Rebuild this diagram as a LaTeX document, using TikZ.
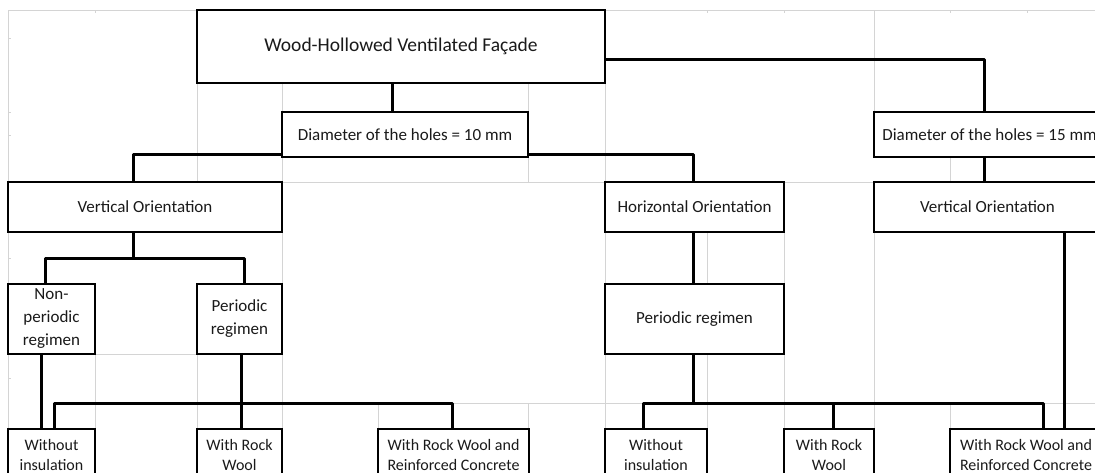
\documentclass[tikz,border=0pt]{standalone}
\usepackage{fontspec}
\setmainfont{Carlito}
\definecolor{gridgray}{HTML}{D4D4D4}
\definecolor{txt}{HTML}{1A1A1A}
\begin{document}
\begin{tikzpicture}[x=1pt,y=-1pt,
  box/.style={draw=black, line width=1.8pt, fill=white, anchor=north west, inner sep=0pt, outer sep=0pt,
    align=center, text=txt, font=\fontsize{17}{23}\selectfont},
  lowbox/.style={box, minimum height=52pt, font=\fontsize{16}{20}\selectfont},
  conn/.style={line width=3pt, line join=round, draw=black},
  gline/.style={draw=gridgray, line width=1pt}]
\useasboundingbox (0,0) rectangle (1095,472);
\clip (0,0) rectangle (1095,472);
% spreadsheet grid lines
\draw[gline] (8,10) -- (1095,10);
\draw[gline] (8,10) -- (8,472);
\draw[gline] (282,182) -- (874,182);
\draw[gline] (95,354) -- (197,354);
\draw[gline] (282,403) -- (1095,403);
\draw[gline] (197,83) -- (197,182);
\draw[gline] (197,354) -- (197,429);
\draw[gline] (95,354) -- (95,429);
\draw[gline] (282,83) -- (282,112);
\draw[gline] (282,157) -- (282,182);
\draw[gline] (282,232) -- (282,472);
\draw[gline] (378,403) -- (378,429);
\draw[gline] (528,83) -- (528,112);
\draw[gline] (528,157) -- (528,182);
\draw[gline] (528,403) -- (528,429);
\draw[gline] (605,83) -- (605,472);
\draw[gline] (707,232) -- (707,429);
\draw[gline] (784,232) -- (784,472);
\draw[gline] (874,10) -- (874,112);
\draw[gline] (874,232) -- (874,472);
\draw[gline] (950,157) -- (950,182);
\draw[gline] (950,403) -- (950,429);
\foreach \gx in {95,378,452,707,784,950,1027} \draw[gline] (\gx,10) -- (\gx,13);
\foreach \gy in {38,112,135,207,258,309,378} \draw[gline] (8,\gy) -- (11,\gy);
% boxes
\node[box, minimum width=408pt, minimum height=73pt, font=\fontsize{19.5}{24}\selectfont] (top) at (197,10) {Wood-Hollowed Ventilated Façade};
\node[box, minimum width=246pt, minimum height=45pt] (dia10) at (282,112) {Diameter of the holes = 10 mm};
\node[box, minimum width=231pt, minimum height=45pt] (dia15) at (874,112) {Diameter of the holes = 15 mm};
\node[box, minimum width=274pt, minimum height=50pt] (vo1) at (8,182) {Vertical Orientation};
\node[box, minimum width=179pt, minimum height=50pt] (ho) at (605,182) {Horizontal Orientation};
\node[box, minimum width=227pt, minimum height=50pt] (vo2) at (874,182) {Vertical Orientation};
\node[box, minimum width=87pt, minimum height=70pt] (np) at (8,284) {\rule{0pt}{6pt}Non-\\periodic\\regimen};
\node[box, minimum width=85pt, minimum height=70pt] (pr1) at (197,284) {Periodic\\regimen};
\node[box, minimum width=179pt, minimum height=70pt] (pr2) at (605,284) {Periodic regimen};
\node[lowbox, minimum width=87pt] (wi1) at (8,429) {Without\\insulation};
\node[lowbox, minimum width=85pt] (rw1) at (197,429) {With Rock\\Wool};
\node[lowbox, minimum width=151pt] (rc1) at (378,429) {With Rock Wool and\\Reinforced Concrete};
\node[lowbox, minimum width=102pt] (wi2) at (605,429) {Without\\insulation};
\node[lowbox, minimum width=90pt] (rw2) at (784,429) {With Rock\\Wool};
\node[lowbox, minimum width=152pt] (rc2) at (950,429) {With Rock Wool and\\Reinforced Concrete};
% bend points
\coordinate (a1) at (392,0);
\coordinate (b2) at (984,59);
\coordinate (b3) at (133,154);
\coordinate (b4) at (693,154);
\coordinate (b5) at (133,258);
\coordinate (b6) at (45,258);
\coordinate (b7) at (244,258);
\coordinate (b8) at (41,0);
\coordinate (b9) at (241,0);
\coordinate (c1) at (54,403);
\coordinate (c2) at (452,403);
\coordinate (b10) at (693,403);
\coordinate (d1) at (643,403);
\coordinate (d2) at (833,403);
\coordinate (d3) at (1043,403);
\coordinate (d4) at (1064,0);
% connectors
\draw[conn] (top.south -| a1) -- (dia10.north -| a1);
\draw[conn] (top.east |- b2) -| (dia15.north -| b2);
\draw[conn] (dia10.west |- b3) -| (vo1.north -| b3);
\draw[conn] (dia10.east |- b4) -| (ho.north -| b4);
\draw[conn] (dia15.south -| b2) -- (vo2.north -| b2);
\draw[conn] (vo1.south -| b5) -- (b5);
\draw[conn] (np.north -| b6) -- (b6) -- (b7) -- (pr1.north -| b7);
\draw[conn] (ho.south -| b10) -- (pr2.north -| b10);
\draw[conn] (np.south -| b8) -- (wi1.north -| b8);
\draw[conn] (pr1.south -| b9) -- (rw1.north -| b9);
\draw[conn] (wi1.north -| c1) -- (c1) -- (c2) -- (rc1.north -| c2);
\draw[conn] (pr2.south -| b10) -- (b10);
\draw[conn] (wi2.north -| d1) -- (d1) -- (d3) -- (rc2.north -| d3);
\draw[conn] (d2) -- (rw2.north -| d2);
\draw[conn] (vo2.south -| d4) -- (rc2.north -| d4);
\end{tikzpicture}
\end{document}
